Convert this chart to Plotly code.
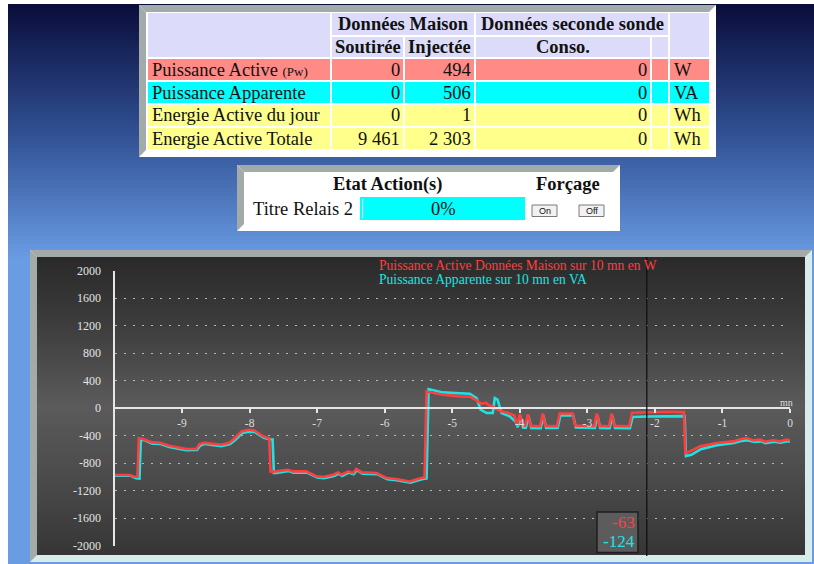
import plotly.graph_objects as go

W, H = 814, 564
SERIF = "Liberation Serif, Times New Roman, serif"
SANS = "Liberation Sans, Arial, sans-serif"

# ---------------- data ----------------
red_t = [-10.00, -9.78, -9.70, -9.66, -9.64, -9.58, -9.44, -9.33, -9.19, -9.05, -8.94, -8.79,
         -8.74, -8.67, -8.55, -8.42, -8.30, -8.22, -8.12, -8.02, -7.93, -7.80, -7.73, -7.71,
         -7.69, -7.61, -7.43, -7.36, -7.16, -7.01, -6.91, -6.76, -6.69, -6.64, -6.54, -6.47,
         -6.42, -6.34, -6.12, -5.97, -5.83, -5.63, -5.46, -5.41, -5.38, -5.14, -4.89, -4.74,
         -4.64, -4.57, -4.50, -4.46, -4.40, -4.30, -4.18, -4.08, -4.04, -4.00, -3.96, -3.92,
         -3.88, -3.84, -3.70, -3.66, -3.62, -3.45, -3.41, -3.22, -3.18, -2.90, -2.86, -2.82,
         -2.68, -2.64, -2.60, -2.38, -2.34, -2.12, -1.80, -1.57, -1.55, -1.48, -1.33, -1.09,
         -0.84, -0.72, -0.64, -0.54, -0.44, -0.37, -0.25, -0.15, -0.05, 0.00]
red_w = [-975, -975, -1000, -1000, -440, -450, -500, -505, -550, -575, -597, -597,
         -525, -505, -520, -535, -505, -440, -340, -316, -326, -413, -437, -440,
         -925, -922, -898, -922, -922, -995, -1004, -970, -937, -970, -922, -946,
         -888, -937, -946, -1019, -1033, -1068, -1019, -1010, 240, 194, 169, 165,
         110, 60, 75, 40, 20, -40, -70, -110, -250, -90, -255, -255,
         -90, -260, -265, -80, -260, -265, -80, -80, -255, -265, -80, -260,
         -265, -80, -260, -265, -70, -63, -55, -60, -660, -631, -558, -509,
         -486, -451, -437, -471, -461, -490, -470, -485, -461, -470]

cyan_t = [-10.00, -9.76, -9.68, -9.63, -9.61, -9.55, -9.44, -9.33, -9.19, -9.05, -8.94, -8.78,
          -8.73, -8.66, -8.55, -8.42, -8.29, -8.21, -8.11, -8.01, -7.92, -7.79, -7.70, -7.66,
          -7.64, -7.60, -7.42, -7.35, -7.15, -7.00, -6.90, -6.75, -6.68, -6.63, -6.53, -6.46,
          -6.41, -6.33, -6.11, -5.96, -5.82, -5.62, -5.45, -5.38, -5.35, -5.14, -4.89, -4.74,
          -4.64, -4.58, -4.49, -4.40, -4.37, -4.33, -4.27, -4.15, -4.06, -4.03, -3.99, -3.95,
          -3.91, -3.87, -3.83, -3.69, -3.65, -3.61, -3.44, -3.40, -3.21, -3.17, -2.89, -2.85,
          -2.81, -2.67, -2.63, -2.59, -2.37, -2.33, -2.12, -1.80, -1.56, -1.54, -1.46, -1.32,
          -1.08, -0.83, -0.71, -0.63, -0.53, -0.43, -0.36, -0.24, -0.14, -0.04, 0.00]
cyan_va = [-985, -985, -1020, -1025, -460, -470, -520, -522, -568, -590, -615, -612,
           -545, -522, -540, -555, -525, -462, -365, -345, -350, -432, -455, -458,
           -945, -945, -915, -940, -940, -1012, -1020, -990, -955, -988, -940, -962,
           -905, -955, -962, -1035, -1050, -1085, -1035, -1025, 276, 227, 215, 208,
           145, -25, -73, -73, 145, 121, -73, -122, -200, -280, -115, -285,
           -285, -115, -290, -295, -110, -290, -290, -110, -110, -285, -290, -110,
           -290, -295, -110, -290, -295, -130, -124, -115, -118, -700, -680, -600,
           -540, -510, -478, -468, -492, -485, -512, -492, -505, -485, -488]

y_tick_vals = [-2000, -1600, -1200, -800, -400, 0, 400, 800, 1200, 1600, 2000]
x_tick_vals = [-9, -8, -7, -6, -5, -4, -3, -2, -1, 0]
cursor_t = -2.12
cursor_texts = ["-63", "-124"]
legend_texts = ["Puissance Active Données Maison sur 10 mn en W",
                "Puissance Apparente sur 10 mn en VA"]

head1 = ["Données Maison", "Données seconde sonde"]
head2 = ["Soutirée", "Injectée", "Conso."]
row_labels = ["Puissance Active <span style='font-size:13px'>(Pw)</span>", "Puissance Apparente",
              "Energie Active du jour", "Energie Active Totale"]
soutiree = ["0", "0", "0", "9 461"]
injectee = ["494", "506", "1", "2 303"]
conso = ["0", "0", "0", "0"]
units = ["W", "VA", "Wh", "Wh"]
row_colors = ["#ff8a86", "#00ffff", "#ffff8c", "#ffff8c"]

relay_label = "Titre Relais 2"
relay_value = "0%"

RED = "#ff3f3f"
CYAN = "#1fe3e3"

# ---------------- helpers ----------------
def X(p):
    return p / W


def Y(p):
    return 1 - p / H


shapes = []
annotations = []


def rect(x0, y0, x1, y1, fill, line_color=None, lw=0, layer="below"):
    shapes.append(dict(type="rect", xref="paper", yref="paper",
                       x0=X(x0), x1=X(x1), y0=Y(y1), y1=Y(y0),
                       fillcolor=fill,
                       line=dict(width=lw, color=line_color or "rgba(0,0,0,0)"),
                       layer=layer))


def poly(pts, fill, layer="below"):
    path = "M " + " L ".join(f"{X(a):.5f},{Y(b):.5f}" for a, b in pts) + " Z"
    shapes.append(dict(type="path", xref="paper", yref="paper", path=path,
                       fillcolor=fill, line=dict(width=0), layer=layer))


def text(x, y, s, size, color="#111111", xanchor="center", family=SERIF):
    annotations.append(dict(xref="paper", yref="paper", x=X(x), y=Y(y), text=s,
                            showarrow=False, xanchor=xanchor, yanchor="middle",
                            font=dict(family=family, size=size, color=color)))


def hex2rgb(h):
    h = h.lstrip("#")
    return tuple(int(h[i:i + 2], 16) for i in (0, 2, 4))


def color_at(stops, f):
    for (f0, c0), (f1, c1) in zip(stops[:-1], stops[1:]):
        if f0 <= f <= f1:
            t = (f - f0) / (f1 - f0) if f1 > f0 else 0
            a, b = hex2rgb(c0), hex2rgb(c1)
            return "rgb(%d,%d,%d)" % tuple(round(a[i] + (b[i] - a[i]) * t) for i in range(3))
    return stops[-1][1]


def gradient(x0, x1, y0, y1, stops, n):
    rect(x0, y0, x1, y1, color_at(stops, 0.5))
    step = (y1 - y0) / n
    for i in range(n):
        ya = y0 + i * step
        yb = min(y1, ya + step + 1.0)
        rect(x0, ya, x1, yb, color_at(stops, (i + 0.5) / n))


# ---------------- page background ----------------
rect(8, 4, 814, 564, "#3a5a9c")
gradient(8, 814, 4, 260, [(0, "#0a0d3a"), (0.5, "#304f92"), (1, "#6a9ce4")], 64)
rect(8, 259, 814, 564, "#6a9ce4")

# ---------------- table 1 ----------------
L1, T1, R1, B1, BW = 139, 5, 716, 157, 7
rect(L1, T1, R1, B1, "#ffffff")
poly([(L1, T1), (R1, T1), (R1 - BW, T1 + BW), (L1 + BW, T1 + BW)], "#a3aaaa")
poly([(L1, T1), (L1 + BW, T1 + BW), (L1 + BW, B1 - BW), (L1, B1)], "#a3aaaa")

cols = [(148, 330), (332, 403), (405, 474), (476, 650), (652, 668), (670, 709)]
rows_h = [(13, 35), (37, 57)]
rows_d = [(59, 80), (82, 103), (105, 126), (128, 149)]
LAV = "#dcdcfa"
rect(cols[0][0], rows_h[0][0], cols[0][1], rows_h[1][1], LAV)
rect(cols[1][0], rows_h[0][0], cols[2][1], rows_h[0][1], LAV)
rect(cols[3][0], rows_h[0][0], cols[4][1], rows_h[0][1], LAV)
rect(cols[5][0], rows_h[0][0], cols[5][1], rows_h[1][1], LAV)
for c in cols[1:5]:
    rect(c[0], rows_h[1][0], c[1], rows_h[1][1], LAV)
for (ya, yb), fill in zip(rows_d, row_colors):
    for c in cols:
        rect(c[0], ya, c[1], yb, fill)

FS = 18.5
hy1 = (rows_h[0][0] + rows_h[0][1]) / 2
hy2 = (rows_h[1][0] + rows_h[1][1]) / 2
text((cols[1][0] + cols[2][1]) / 2, hy1, "<b>" + head1[0] + "</b>", FS)
text((cols[3][0] + cols[4][1]) / 2, hy1, "<b>" + head1[1] + "</b>", FS)
text((cols[1][0] + cols[1][1]) / 2, hy2, "<b>" + head2[0] + "</b>", FS)
text((cols[2][0] + cols[2][1]) / 2, hy2, "<b>" + head2[1] + "</b>", FS)
text((cols[3][0] + cols[3][1]) / 2, hy2, "<b>" + head2[2] + "</b>", FS)
for i, (ya, yb) in enumerate(rows_d):
    yc = (ya + yb) / 2
    text(cols[0][0] + 2, yc, row_labels[i], FS, xanchor="left")
    text(cols[1][1] - 1, yc, soutiree[i], FS, xanchor="right")
    text(cols[2][1] - 1, yc, injectee[i], FS, xanchor="right")
    text(cols[3][1] - 1, yc, conso[i], FS, xanchor="right")
    text(cols[5][0] + 2, yc, units[i], FS, xanchor="left")

# ---------------- table 2 ----------------
L2, T2, R2, B2 = 237, 165, 620, 231
rect(L2, T2, R2, B2, "#ffffff")
poly([(L2, T2), (R2, T2), (R2 - BW, T2 + BW), (L2 + BW, T2 + BW)], "#a3aaaa")
poly([(L2, T2), (L2 + BW, T2 + BW), (L2 + BW, B2 - BW), (L2, B2)], "#a3aaaa")
text(387, 184, "<b>Etat Action(s)</b>", FS)
text(568, 184, "<b>Forçage</b>", FS)
text(251, 209, relay_label, FS, xanchor="left")
rect(360, 197, 525, 220, "#00ffff")
rect(362, 199, 363.2, 218, "#d9ecc8")
text(444, 209, relay_value, FS)
for bx0, bx1, lab in [(532, 557, "On"), (579, 604, "Off")]:
    rect(bx0, 205, bx1, 216.5, "#f2f2f2", "#7a7a7a", 1)
    text((bx0 + bx1) / 2, 211, lab, 9, family=SANS)

# ---------------- chart panel ----------------
LC, TC, RC, BC, BWC = 30, 250, 812, 562, 7
rect(LC, TC, RC, BC, "#d8ecec")
poly([(LC, TC), (RC, TC), (RC - BWC, TC + BWC), (LC + BWC, TC + BWC)], "#a3aaaa")
poly([(LC, TC), (LC + BWC, TC + BWC), (LC + BWC, BC - BWC), (LC, BC)], "#a3aaaa")
gradient(LC + BWC, RC - BWC, TC + BWC, BC - BWC,
         [(0, "#2a2a2a"), (0.2, "#3a3a3a"), (0.5, "#5b5b5b"), (0.75, "#4a4a4a"), (1, "#363636")], 90)

text(377, 265.5, legend_texts[0], 13.6, color=RED, xanchor="left")
text(377, 279.5, legend_texts[1], 13.6, color=CYAN, xanchor="left")
text(786, 402, "mn", 10, color="#dddddd")

shapes.append(dict(type="line", xref="x", yref="paper", x0=cursor_t, x1=cursor_t,
                   y0=Y(556), y1=Y(257), line=dict(color="#111111", width=1.3), layer="above"))
rect(597, 512, 638, 552.5, "#5c5c5c", "#1e1e1e", 1.5, layer="above")
text(637, 522.5, cursor_texts[0], 17, color=RED, xanchor="right")
text(637, 541.5, cursor_texts[1], 17, color=CYAN, xanchor="right")

# ---------------- figure ----------------
fig = go.Figure()
fig.add_trace(go.Scatter(x=cyan_t, y=cyan_va, mode="lines",
                         line=dict(color=CYAN, width=2.6), name=legend_texts[1],
                         hoverinfo="skip"))
fig.add_trace(go.Scatter(x=red_t, y=red_w, mode="lines",
                         line=dict(color=RED, width=2.6), name=legend_texts[0],
                         hoverinfo="skip"))

ydom = [Y(545.5), Y(270.5)]
fig.update_layout(
    width=W, height=H,
    autosize=False,
    margin=dict(l=0, r=0, t=0, b=0, pad=0, autoexpand=False),
    paper_bgcolor="#ffffff",
    plot_bgcolor="rgba(0,0,0,0)",
    showlegend=False,
    shapes=shapes,
    annotations=annotations,
    xaxis=dict(domain=[X(114.5), X(790)], range=[-10, 0], anchor="free",
               position=(ydom[0] + ydom[1]) / 2, automargin=False,
               showline=True, linecolor="#e6e6e6", linewidth=2,
               ticks="outside", ticklen=4, tickwidth=2, tickcolor="#e6e6e6",
               tickvals=x_tick_vals, ticktext=[str(v) for v in x_tick_vals],
               tickfont=dict(family=SERIF, size=11.5, color="#dddddd"),
               showgrid=False, zeroline=False, fixedrange=True),
    yaxis=dict(domain=ydom, range=[-2000, 2000], automargin=False,
               showline=True, linecolor="#e6e6e6", linewidth=2,
               ticks="", ticklabelstandoff=9,
               tickvals=y_tick_vals, ticktext=[str(v) for v in y_tick_vals],
               tickfont=dict(family=SERIF, size=12, color="#e4e4e4"),
               showgrid=True, gridcolor="#b8b8b8", gridwidth=1, griddash="2px,7px",
               zeroline=False, fixedrange=True),
)

fig.write_html("out.html", include_plotlyjs=True,
               config={"displayModeBar": False},
               post_script="document.body.style.margin='0';document.body.style.overflow='hidden';")
